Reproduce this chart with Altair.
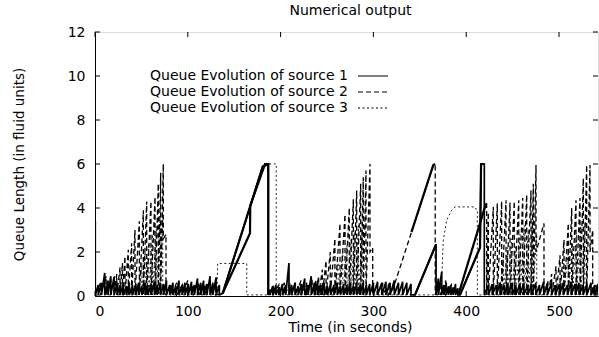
import altair as alt
import pandas as pd

# ---------------- data ----------------
X_TICKS = [0, 100, 200, 300, 400, 500]
Y_TICKS = [0, 2, 4, 6, 8, 10, 12]
X_MAX = 542
Y_MAX = 12
LABELS = ["Queue Evolution of source 1", "Queue Evolution of source 2", "Queue Evolution of source 3"]
IDLE = 0.05  # queue level after each drop, unless a tooth gives its own

# teeth: (time, peak value, value right after the drop); missing drop value -> IDLE
S1_TEETH = [
    (0, 0.05, 0.05), (0.3, 3.4),
    (3.5, 0.5), (7, 0.6), (10.5, 1.05), (14, 0.7), (17, 0.9), (20.5, 0.85), (24, 0.6), (27, 0.5),
    (30.5, 0.55), (34, 0.45), (37, 0.6), (40.5, 0.5), (44, 0.55), (47, 0.6), (50.5, 0.45), (54, 0.6),
    (57, 0.5), (60.5, 0.55), (64, 0.65), (67, 0.5), (70.5, 0.6), (74, 0.55), (77, 0.7), (80.5, 0.5),
    (84, 0.6), (87, 0.45), (90.5, 0.7), (94, 0.5), (97, 0.6), (100.5, 0.55), (104, 0.65), (107, 0.5),
    (110.5, 0.8), (114, 0.6), (117, 0.7), (120.5, 0.55), (124, 0.9), (127, 0.6), (130.5, 0.85), (134, 0.5),
    (137.6, 0.12, 0.12), (180.7, 5.88, 5.88), (186.7, 6.0),
    (188.5, 0.3), (191.5, 0.45), (195, 0.5), (198.5, 0.4), (202, 0.55), (205.5, 0.5), (209, 1.5),
    (212, 0.5), (215.5, 0.6), (219, 0.45), (222.5, 0.55), (226, 0.8), (229.5, 0.5), (233, 0.9),
    (236.5, 0.6), (240, 0.7), (243.5, 0.5), (247, 0.6), (250.5, 0.45), (254, 0.55), (257.5, 0.5),
    (261, 0.6), (264.5, 0.45), (268, 0.55), (271.5, 0.5), (275, 0.6), (278.5, 0.45), (282, 0.55),
    (285.5, 0.5), (289, 0.6), (292.5, 0.5), (296, 0.55), (300, 0.6), (304.5, 0.65), (309, 0.6),
    (313.5, 0.65), (318, 0.6), (322.5, 0.7), (327, 0.6), (331.5, 0.65), (336, 0.6), (340.5, 0.55),
    (344.8, 0.05, 0.05), (367.5, 2.35),
    (370, 0.8), (373.6, 1.1), (376, 0.5), (378.5, 0.6), (381, 0.45), (383.5, 0.5), (386, 0.4),
    (388.5, 0.55), (391, 0.35),
    (393.3, 0.05, 0.05), (414.9, 2.2, 2.2), (416, 6.0, 6.0), (419.5, 6.0),
    (424, 0.5), (428, 0.55), (432.5, 0.5), (436.5, 0.6), (441, 0.5), (445, 0.55), (449.5, 0.6),
    (453.5, 0.5), (458, 0.55), (462, 0.6), (466.5, 0.5), (470.5, 0.55), (475, 0.6), (479, 0.5),
    (483.5, 0.65), (487.5, 0.55), (492, 0.6), (496, 0.5), (500.5, 0.55), (504.5, 0.6), (509, 0.5),
    (513, 0.65), (517.5, 0.55), (521.5, 0.6), (526, 0.5), (530, 0.55), (534.5, 0.6), (538.5, 0.5),
    (542, 0.55),
]

S2_TEETH = [
    (0, 0.05, 0.05), (6, 0.6), (12, 0.9), (17, 0.8), (21, 0.9),
    (23.4, 1.0), (27, 1.3), (29.6, 1.5), (32.3, 1.8), (35.9, 2.1), (39.5, 2.4), (43.1, 3.0),
    (47.8, 3.4), (52.1, 3.9), (55.7, 4.3), (60.3, 4.3), (64.7, 4.5), (68.2, 5.1), (70.8, 5.6),
    (73.6, 6.0, 2.6), (76.5, 2.8),
    (82, 0.5), (88, 0.6), (94, 0.5), (100, 0.7), (106, 0.5), (112, 0.6), (118, 0.55), (124, 0.7),
    (130, 0.6),
    (137.6, 0.12, 0.12), (167, 2.85, 2.85), (167.3, 4.1, 4.1), (183.2, 6.0, 6.0), (186.7, 6.0),
    (192, 0.4), (198, 0.5), (204, 0.6), (210, 0.5), (216, 0.6), (222, 0.7), (228, 0.6), (234, 0.8),
    (238, 0.7),
    (241, 0.9), (245, 1.2), (249, 1.6), (253.5, 2.0), (258.5, 2.6), (264, 3.3), (269.4, 3.7),
    (274, 4.0), (278.4, 4.4), (282, 4.8), (286.3, 5.1), (289.1, 5.4), (292, 5.7),
    (296.3, 6.0, 2.0), (299.2, 2.2),
    (304, 0.5), (310, 0.6), (316, 0.5),
    (321, 0.3, 0.3), (364.5, 5.95, 5.95), (366.6, 6.0),
    (372, 0.6), (378, 0.7), (384, 0.5), (389, 0.4),
    (391.5, 0.05, 0.05), (421.3, 4.2, 4.2), (422, 4.2),
    (423.8, 3.8), (429.2, 4.05), (433.5, 4.2), (438.2, 4.3), (442.9, 4.35), (447.2, 4.25),
    (451.8, 4.3), (456.6, 4.35), (460.9, 4.45), (465.2, 4.6), (469.8, 4.8), (472.3, 5.1),
    (475.2, 5.95, 2.0), (483.8, 3.3),
    (488, 0.7), (492.1, 1.0), (496.8, 1.35), (501.1, 1.85), (505.4, 2.55), (510, 3.3), (513.7, 4.0),
    (518.3, 4.35), (522.6, 4.45), (526.2, 5.35), (529.8, 5.95), (533.4, 5.95, 2.0), (536.3, 3.0),
    (540, 0.5), (542, 0.3, 0.3),
]

S3_TEETH = [
    (0, 0.05, 0.05), (48, 0.05, 0.05),
    (50.5, 1.5), (54, 2.0), (58, 2.4), (62, 2.8), (66, 3.0), (70, 3.4), (73, 3.6),
    (131.5, 0.05, 0.05), (132.2, 1.48, 1.48), (163.5, 1.48),
    (186.5, 0.05, 0.05), (186.8, 6.0, 6.0), (195.3, 6.0),
    (258, 0.05, 0.05), (262, 1.5), (267, 2.0), (271.5, 2.3), (276, 2.6), (280, 2.9), (284, 3.2),
    (288, 3.0),
    (373.3, 0.05, 0.05), (373.6, 0.73, 0.73), (375.3, 2.55, 2.55), (379, 3.45, 3.45),
    (384.4, 3.9, 3.9), (388, 4.05, 4.05), (409.5, 4.05, 4.05), (411.3, 3.9, 3.9), (412, 3.9),
    (436, 0.05, 0.05), (440, 1.8), (444.5, 2.2), (449, 2.6), (453.5, 2.3), (458, 2.8), (462.5, 3.2),
    (467, 3.0), (471.5, 3.5), (476, 2.8),
    (500, 0.05, 0.05), (505, 1.5), (510, 2.0), (514.5, 2.4), (519, 2.8), (523.5, 3.2), (528, 3.3),
    (542, 0.05, 0.05),
]

# the steep build-up ramps, which print as heavy solid strokes
RAMPS = [
    [(137.6, 0.12), (180.7, 5.88), (186.7, 6.0)],
    [(137.6, 0.12), (167, 2.85), (167.3, 4.1), (183.2, 6.0), (186.7, 6.0), (186.7, 0.05)],
    [(341, 2.9), (364.5, 5.95), (366.6, 6.0)],
    [(344.8, 0.05), (367.5, 2.35)],
    [(391.5, 0.05), (421.3, 4.2)],
    [(393.3, 0.05), (414.9, 2.2), (416, 6.0), (419.5, 6.0)],
]


def tooth_vertices(teeth):
    rows = []
    for tooth in teeth:
        t, peak = tooth[0], tooth[1]
        drop = tooth[2] if len(tooth) > 2 else IDLE
        rows.append((t, peak))
        if drop != peak:
            rows.append((t, drop))
    df = pd.DataFrame(rows, columns=["t", "q"])
    df["i"] = range(len(df))
    return df


def ramp_vertices(ramps):
    rows = []
    for k, seg in enumerate(ramps):
        for t, q in seg:
            rows.append((t, q, k))
    df = pd.DataFrame(rows, columns=["t", "q", "seg"])
    df["i"] = range(len(df))
    return df


FONT = "DejaVu Sans"

x_scale = alt.Scale(domain=[0, X_MAX], nice=False, zero=False)
y_scale = alt.Scale(domain=[0, Y_MAX], nice=False, zero=False)

X = alt.X("t:Q", scale=x_scale, axis=alt.Axis(
    values=X_TICKS, ticks=False, grid=False, domainColor="black", domainWidth=1,
    labelFont=FONT, labelFontSize=14, labelColor="black", labelPadding=8,
    title="Time (in seconds)", titleFont=FONT, titleFontSize=14, titleFontWeight="normal",
    titleColor="black", titleX=255, titleY=31, titleBaseline="middle", titleAnchor="middle"))
Y = alt.Y("q:Q", scale=y_scale, axis=alt.Axis(
    values=Y_TICKS, ticks=False, grid=False, domainColor="black", domainWidth=1,
    labelFont=FONT, labelFontSize=14, labelColor="black", labelPadding=10,
    title="Queue Length (in fluid units)", titleFont=FONT, titleFontSize=13.5,
    titleFontWeight="normal", titleColor="black", titleX=-76, titleY=132,
    titleAngle=-90, titleBaseline="middle", titleAnchor="middle"))

s1 = alt.Chart(tooth_vertices(S1_TEETH)).mark_line(
    color="black", strokeWidth=1.7, clip=True, interpolate="linear"
).encode(x=X, y=Y, order="i:Q")

s2 = alt.Chart(tooth_vertices(S2_TEETH)).mark_line(
    color="black", strokeWidth=1.3, strokeDash=[5, 3], clip=True
).encode(x=X, y=Y, order="i:Q")

s3 = alt.Chart(tooth_vertices(S3_TEETH)).mark_line(
    color="#222222", strokeWidth=1.0, strokeDash=[2, 2.5], clip=True
).encode(x=X, y=Y, order="i:Q")

ramps = alt.Chart(ramp_vertices(RAMPS)).mark_line(
    color="black", strokeWidth=2.2, clip=True
).encode(x=X, y=Y, detail="seg:N", order="i:Q")

# inward ticks on all four sides (gnuplot style)
xt = pd.DataFrame({"t": X_TICKS})
yt = pd.DataFrame({"q": Y_TICKS})
tick_x_bottom = alt.Chart(xt).mark_rule(color="black").encode(x=X, y=alt.datum(0), y2=alt.datum(0.23))
tick_x_top = alt.Chart(xt).mark_rule(color="black").encode(x=X, y=alt.datum(Y_MAX), y2=alt.datum(Y_MAX - 0.23))
tick_y_left = alt.Chart(yt).mark_rule(color="black").encode(y=Y, x=alt.datum(0), x2=alt.datum(5.4))
tick_y_right = alt.Chart(yt).mark_rule(color="black").encode(y=Y, x=alt.datum(X_MAX), x2=alt.datum(X_MAX - 5.4))

# key, placed inside the plot like the original (label left, sample right)
one = pd.DataFrame({"k": [0]})
legend_layers = []
dashes = [[1, 0], [5, 3], [2, 2.5]]
for n, (label, dash) in enumerate(zip(LABELS, dashes)):
    yy = 44 + 16 * n
    legend_layers.append(
        alt.Chart(one).mark_text(text=label, align="left", baseline="middle", font=FONT,
                                 fontSize=14, color="black")
        .encode(x=alt.value(55), y=alt.value(yy))
    )
    legend_layers.append(
        alt.Chart(one).mark_rule(color="black", strokeWidth=1.2, strokeDash=dash)
        .encode(x=alt.value(263), x2=alt.value(293), y=alt.value(yy))
    )

chart = alt.layer(
    s3, s2, s1, ramps, tick_x_bottom, tick_x_top, tick_y_left, tick_y_right, *legend_layers
).properties(
    width=503, height=264,
    title=alt.TitleParams("Numerical output", font=FONT, fontSize=14, fontWeight="normal",
                          color="black", anchor="middle", dx=4, offset=7),
    autosize=alt.AutoSizeParams(type="none"),
    padding={"left": 95, "top": 32, "right": 1, "bottom": 41},
).configure_view(stroke="black", strokeWidth=1).configure(background="white")

chart.save("out.html", embed_options={"renderer": "svg", "actions": False})
